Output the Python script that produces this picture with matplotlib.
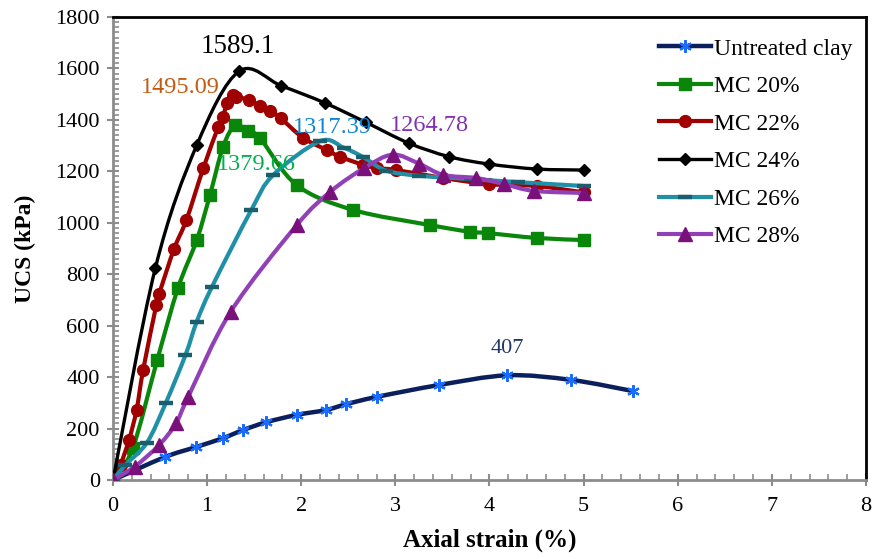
import matplotlib
matplotlib.use("Agg")
import matplotlib.pyplot as plt
from matplotlib.path import Path
from matplotlib.patches import PathPatch
from matplotlib.lines import Line2D
from matplotlib.ticker import MultipleLocator

plt.rcParams['font.family'] = ['Liberation Serif', 'DejaVu Serif']

# Stress-strain data: axial strain (%) vs UCS (kPa)
untreated_x = [0.0, 0.55, 0.88, 1.17, 1.38, 1.63, 1.95, 2.26, 2.48, 2.80, 3.46, 4.19, 4.87, 5.52]
untreated_y = [0, 89, 128, 163, 194, 225, 253, 272, 295, 323, 369, 407, 389, 346]

mc20_x = [0.0, 0.21, 0.47, 0.69, 0.89, 1.03, 1.17, 1.30, 1.43, 1.56, 1.95, 2.55, 3.37, 3.79, 3.98, 4.50, 5.00]
mc20_y = [0, 124, 467, 746, 933, 1108, 1296, 1379.66, 1356, 1330, 1147, 1050, 991, 965, 960, 941, 933]

mc22_x = [0.0, 0.08, 0.17, 0.25, 0.32, 0.46, 0.49, 0.65, 0.78, 0.96, 1.12, 1.17, 1.21, 1.27,
          1.31, 1.44, 1.56, 1.67, 1.78, 2.02, 2.27, 2.41, 2.66, 2.80, 3.01, 3.51, 4.00, 4.50, 5.00]
mc22_y = [0, 60, 156, 272, 428, 680, 723, 900, 1011, 1213, 1374, 1413, 1465, 1495.09,
          1490, 1478, 1455, 1436, 1407, 1330, 1283, 1257, 1225, 1213, 1205, 1174, 1150, 1143, 1118]

mc24_x = [0.0, 0.45, 0.89, 1.34, 1.79, 2.25, 2.69, 3.14, 3.57, 4.00, 4.50, 5.00]
mc24_y = [0, 824, 1302, 1589.1, 1532, 1466, 1390, 1310, 1257, 1228, 1209, 1205]

mc26_x = [0.0, 0.13, 0.36, 0.56, 0.77, 0.89, 1.05, 1.47, 1.70, 2.20, 2.45, 2.66, 2.90, 3.25, 3.80, 4.30, 5.00]
mc26_y = [0, 58, 145, 299, 486, 616, 750, 1050, 1185, 1317.39, 1292, 1255, 1203, 1183, 1170, 1158, 1143]

mc28_x = [0.0, 0.23, 0.49, 0.67, 0.80, 1.25, 1.95, 2.31, 2.67, 2.97, 3.25, 3.51, 3.86, 4.15, 4.47, 5.00]
mc28_y = [0, 52, 136, 221, 324, 654, 990, 1121, 1213, 1264.78, 1230, 1186, 1174, 1151, 1124, 1116]

series_labels = ["Untreated clay", "MC 20%", "MC 22%", "MC 24%", "MC 26%", "MC 28%"]

# Peak values annotated on the chart
peak_text = ["407", "1379.66", "1495.09", "1589.1", "1317.39", "1264.78"]
peak_pos = [(4.19, 513), (1.52, 1225), (0.72, 1524), (1.33, 1687), (2.33, 1372), (3.36, 1380)]
peak_size = [16, 17.5, 17.5, 19.5, 17.5, 17.5]


def smooth_path(xs, ys):
    """Catmull-Rom curve through the points, expressed as cubic Bezier segments."""
    pts = list(zip(xs, ys))
    n = len(pts)
    verts = [pts[0]]
    codes = [Path.MOVETO]
    for i in range(n - 1):
        p0 = pts[i - 1] if i > 0 else pts[i]
        p1 = pts[i]
        p2 = pts[i + 1]
        p3 = pts[i + 2] if i + 2 < n else pts[i + 1]
        c1 = (p1[0] + (p2[0] - p0[0]) / 6.0, p1[1] + (p2[1] - p0[1]) / 6.0)
        c2 = (p2[0] - (p3[0] - p1[0]) / 6.0, p2[1] - (p3[1] - p1[1]) / 6.0)
        verts += [c1, c2, p2]
        codes += [Path.CURVE4] * 3
    return Path(verts, codes)


styles = [
    dict(line='#0b1f5c', lw=3.2, marker=(6, 2, 0), mfc='#1a6cff', mec='#1a6cff', ms=9, mew=1.6),
    dict(line='#0a860a', lw=3.0, marker='s', mfc='#0a860a', mec='#0a860a', ms=8.5, mew=1),
    dict(line='#a00000', lw=3.0, marker='o', mfc='#a00000', mec='#a00000', ms=8.5, mew=1),
    dict(line='#000000', lw=2.4, marker='D', mfc='#000000', mec='#000000', ms=6.5, mew=1),
    dict(line='#2090a6', lw=3.0, marker='_', mfc='#1b5e6e', mec='#1b5e6e', ms=10, mew=3.2),
    dict(line='#9240b8', lw=3.0, marker='^', mfc='#7a107a', mec='#7a107a', ms=9.5, mew=1),
]
label_colors = ['#1f3864', '#00b050', '#c55a11', '#000000', '#0f84d6', '#7f33b0']

data = [(untreated_x, untreated_y), (mc20_x, mc20_y), (mc22_x, mc22_y),
        (mc24_x, mc24_y), (mc26_x, mc26_y), (mc28_x, mc28_y)]

fig = plt.figure(figsize=(8.72, 5.59), dpi=100)
ax = fig.add_axes([0.1296, 0.1413, 0.8635, 0.8283])

draw_order = [0, 5, 4, 1, 2, 3]
handles = [None] * 6
for k in draw_order:
    xs, ys = data[k]
    st = styles[k]
    ax.add_patch(PathPatch(smooth_path(xs, ys), fill=False, edgecolor=st['line'],
                           lw=st['lw'], capstyle='round', joinstyle='round', zorder=2 + k))
    ax.plot(xs, ys, linestyle='none', marker=st['marker'], markersize=st['ms'],
            markerfacecolor=st['mfc'], markeredgecolor=st['mec'], markeredgewidth=st['mew'],
            zorder=2 + k)
    handles[k] = Line2D([], [], color=st['line'], lw=st['lw'], marker=st['marker'],
                        markersize=st['ms'], markerfacecolor=st['mfc'],
                        markeredgecolor=st['mec'], markeredgewidth=st['mew'])

for txt, (px, py), c, fs in zip(peak_text, peak_pos, label_colors, peak_size):
    ax.text(px, py, txt, color=c, fontsize=fs, ha='center', va='center', zorder=20)

ax.set_xlim(0, 8)
ax.set_ylim(0, 1800)
ax.xaxis.set_major_locator(MultipleLocator(1))
ax.xaxis.set_minor_locator(MultipleLocator(0.2))
ax.yaxis.set_major_locator(MultipleLocator(200))
ax.yaxis.set_minor_locator(MultipleLocator(20))

for side in ['left', 'bottom']:
    ax.spines[side].set_color('#8c8c8c')
    ax.spines[side].set_linewidth(2.0)
for side in ['top', 'right']:
    ax.spines[side].set_color('#000000')
    ax.spines[side].set_linewidth(2.0)

ax.tick_params(axis='both', which='major', direction='inout', length=9, width=1.5,
               color='#8c8c8c', labelsize=16)
ax.tick_params(axis='x', which='major', pad=8)
ax.tick_params(axis='y', which='major', pad=5)
ax.tick_params(axis='both', which='minor', direction='in', length=4, width=1.2, color='#8c8c8c')

ax.set_xlabel('Axial strain (%)', fontsize=18, fontweight='bold', labelpad=9)
ax.set_ylabel('UCS (kPa)', fontsize=17, fontweight='bold', labelpad=14)

leg = ax.legend(handles, series_labels, loc='upper left', bbox_to_anchor=(0.713, 0.975),
                frameon=False, fontsize=17, handlelength=2.2, handletextpad=0.1,
                labelspacing=0.68, borderaxespad=0)

fig.savefig('out.png', dpi=100)
